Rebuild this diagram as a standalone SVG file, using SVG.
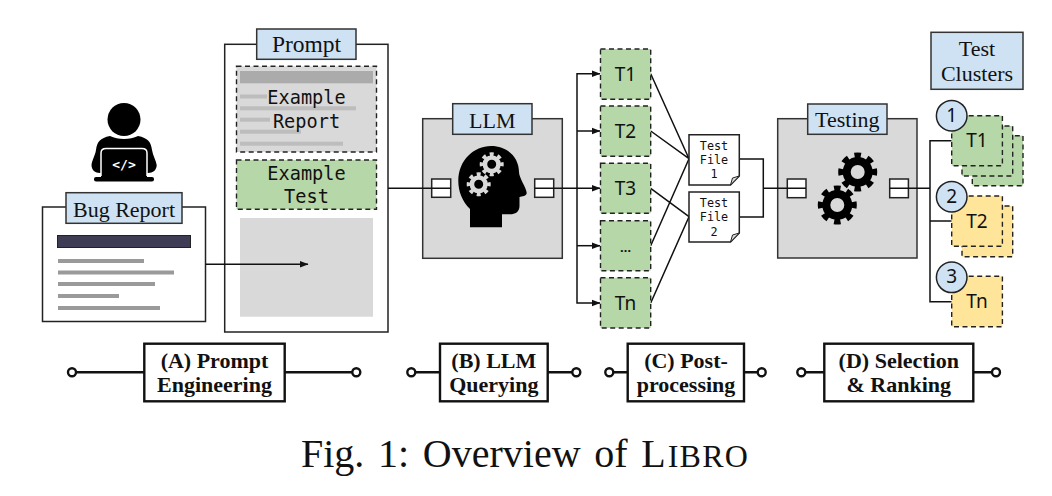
<svg xmlns="http://www.w3.org/2000/svg" width="1052" height="496" viewBox="0 0 1052 496">
<style>
.box{stroke:#222;stroke-width:1.5;fill:#fff}
.gray{fill:#d9d9d9;stroke:#333;stroke-width:1.5}
.lab{fill:#cfe2f3;stroke:#333;stroke-width:1.5}
.dash{stroke:#222;stroke-width:1.4;stroke-dasharray:5 3.5}
.green{fill:#b6d7a8}.yellow{fill:#ffe599}
.port{fill:#fff;stroke:#222;stroke-width:1.5}
.serif{font-family:"Liberation Serif",serif;font-size:22px;fill:#111;text-anchor:middle}
.mono{font-family:"DejaVu Sans Mono",monospace;font-size:18.6px;fill:#111;text-anchor:middle}
.mono2{font-family:"DejaVu Sans Mono",monospace;font-size:11.8px;fill:#111;text-anchor:middle}
.sans{font-family:"Noto Sans",sans-serif;font-size:19px;fill:#111;text-anchor:middle}
.stage{font-family:"Liberation Serif",serif;font-weight:bold;font-size:22px;fill:#111;text-anchor:middle}
.sbox{fill:#fff;stroke:#111;stroke-width:2.4}
.sline{fill:none;stroke:#111;stroke-width:2.4}
.dot{fill:#fff;stroke:#111;stroke-width:2.4}
.conn{fill:none;stroke:#111;stroke-width:1.5}
.bar{fill:#9a9a9a}
.bar2{fill:#bdbdbd}
.circ{fill:#cfe2f3;stroke:#222;stroke-width:1.5}
</style>
<defs>
<marker id="ah" markerUnits="userSpaceOnUse" markerWidth="9" markerHeight="8" refX="8.5" refY="4" orient="auto"><path d="M0 .5L9 4L0 7.5Z" fill="#111"/></marker>
<g id="gearBlack"><circle r="11" fill="none" stroke="#000" stroke-width="8"/><circle r="16.500" fill="none" stroke="#000" stroke-width="6" pathLength="16" stroke-dasharray="1 1" stroke-dashoffset=".5"/></g>
<g id="gearLight"><circle r="6.800" fill="none" stroke="#d9d9d9" stroke-width="4.600"/><circle r="10" fill="none" stroke="#d9d9d9" stroke-width="4" pathLength="16" stroke-dasharray="1 1" stroke-dashoffset=".5"/></g>
</defs>
<rect width="1052" height="496" fill="#fff"/>
<g id="person">
<circle cx="124" cy="119.500" r="16.500" fill="#000"/>
<path d="M110 136C100 138 97 142 96 150C95 156 92 160 91.500 165C91.500 170 95 173 100 173H148C153 173 156.700 170 156.700 165C156 160 153 156 152 150C151 142 148 138 138 136C130 140 118 140 110 136Z" fill="#000"/>
<rect x="101" y="149" width="46" height="28" fill="#000"/>
<path d="M101 176V153Q101 148.500 106 148.500H142Q147 148.500 147 153V176" fill="none" stroke="#fff" stroke-width="1.500"/>
<rect x="94" y="177" width="60" height="4.500" rx="2" fill="#000"/>
<text x="124" y="169" font-family="DejaVu Sans Mono,monospace" font-weight="bold" font-size="13" fill="#fff" text-anchor="middle">&lt;/&gt;</text>
</g>
<g id="bug-report">
<rect class="box" x="42.500" y="207" width="163" height="114.500"/>
<rect x="57.500" y="235.500" width="133" height="12" fill="#3f3d56" stroke="#222"/>
<rect class="bar" x="58" y="259" width="86" height="4"/>
<rect class="bar" x="58" y="270.500" width="116" height="4"/>
<rect class="bar" x="58" y="282" width="97" height="4"/>
<rect class="bar" x="58" y="294" width="61" height="4"/>
<rect class="bar" x="58" y="306" width="102" height="4"/>
<rect class="lab" x="66" y="192.700" width="116" height="30.600"/>
<text class="serif" x="124" y="217">Bug Report</text>
</g>
<g id="prompt">
<rect class="box" x="224.700" y="44.300" width="163.300" height="287.700"/>
<rect class="lab" x="256.700" y="29" width="99.300" height="30.300"/>
<text class="serif" x="306.500" y="52" style="font-size:23.500px">Prompt</text>
<rect x="236.500" y="66.300" width="140" height="85.700" fill="#d9d9d9" class="dash"/>
<rect x="240" y="71" width="133" height="12.300" fill="#ababab"/>
<rect class="bar2" x="240" y="94.500" width="27" height="4"/>
<rect class="bar2" x="240" y="106.300" width="116" height="4"/>
<rect class="bar2" x="240" y="117.700" width="30" height="4"/>
<rect class="bar2" x="240" y="129.700" width="61" height="4"/>
<rect class="bar2" x="240" y="141.700" width="103" height="4"/>
<text class="mono" x="306.500" y="104">Example</text>
<text class="mono" x="306.500" y="128">Report</text>
<rect x="236.500" y="160" width="140" height="49.300" class="dash green"/>
<text class="mono" x="306.500" y="180">Example</text>
<text class="mono" x="306.500" y="203">Test</text>
<rect x="240" y="218" width="133" height="98.700" fill="#d9d9d9"/>
</g>
<g id="llm">
<rect class="gray" x="422.700" y="118.700" width="139.600" height="139.600"/>
<rect class="lab" x="452.700" y="103.700" width="79.300" height="30.600"/>
<text class="serif" x="492.300" y="127.500">LLM</text>
<path d="M470 227.300V209C462 201 458.300 191 458.300 181C458.300 160 474 146 491 146C508 146 519 158 519 172C519 178 526.700 188 526.700 193C526.700 196 522 196.500 519.500 197V206C519.500 212 515 214.300 510 214.300H502V227.300Z" fill="#000"/>
<use href="#gearLight" x="491.700" y="164.300"/>
<use href="#gearLight" x="478.700" y="184.300"/>
<rect class="port" x="431.700" y="179" width="19" height="18.300"/>
<rect class="port" x="534.700" y="179" width="19" height="18.300"/>
</g>
<g id="testing">
<rect class="gray" x="777.700" y="118.700" width="139.300" height="139.300"/>
<rect class="lab" x="807.700" y="104" width="79.300" height="30.300"/>
<text class="serif" x="847.300" y="127">Testing</text>
<use href="#gearBlack" x="857.700" y="172"/>
<use href="#gearBlack" x="837.300" y="205"/>
<rect class="port" x="787.300" y="179" width="18.700" height="18.700"/>
<rect class="port" x="889.700" y="179" width="18.700" height="18.700"/>
</g>
<g id="connectors">
<path class="conn" d="M388 188.300H450.700"/>
<path class="conn" d="M205.700 264.300H308" marker-end="url(#ah)"/>
<path class="conn" d="M534.700 188.300H600" marker-end="url(#ah)"/>
<path class="conn" d="M577 188.300V73.700H600" marker-end="url(#ah)"/>
<path class="conn" d="M577 131H600" marker-end="url(#ah)"/>
<path class="conn" d="M577 188.300V303H600" marker-end="url(#ah)"/>
<path class="conn" d="M577 245.700H600" marker-end="url(#ah)"/>
<path class="conn" d="M650.700 73.700L689 158.700M650.700 131L689 158.700M650.700 245.700L689 158.700M650.700 188.300L689 216.700M650.700 303L689 216.700"/>
<path class="conn" d="M739.300 159H763.300V217H739.300M763.300 188.300H806"/>
<path class="conn" d="M889.700 188.300H930M951.700 140.700H930V301.700H951.700M930 221H951.700"/>
</g>
<g id="t1"><rect x="600.500" y="49" width="50.200" height="50.300" class="dash green"/><text class="sans" x="625.500" y="80.700">T1</text></g>
<g id="t2"><rect x="600.500" y="106" width="50.200" height="50.300" class="dash green"/><text class="sans" x="625.500" y="138.200">T2</text></g>
<g id="t3"><rect x="600.500" y="163.300" width="50.200" height="50" class="dash green"/><text class="sans" x="625.500" y="195">T3</text></g>
<g id="tdots"><rect x="600.500" y="220.700" width="50.200" height="50" class="dash green"/><text class="sans" x="625.500" y="252" font-weight="bold" style="font-size:13px">…</text></g>
<g id="tn"><rect x="600.500" y="277.700" width="50.200" height="50.300" class="dash green"/><text class="sans" x="625.500" y="310">Tn</text></g>
<g id="test-file-1"><path class="box" d="M689 134.700H739.300V176L730.500 185H689Z"/><path d="M730.500 185L732.500 178L739.300 176Z" fill="#d9d9d9" stroke="#222" stroke-width="1"/>
<text class="mono2" x="714" y="150.300">Test</text><text class="mono2" x="714" y="164">File</text><text class="mono2" x="714" y="178">1</text></g>
<g id="test-file-2"><path class="box" d="M689 192H739.300V233L730.500 242H689Z"/><path d="M730.500 242L732.500 235L739.300 233Z" fill="#d9d9d9" stroke="#222" stroke-width="1"/>
<text class="mono2" x="714" y="207.300">Test</text><text class="mono2" x="714" y="221">File</text><text class="mono2" x="714" y="235.500">2</text></g>
<g id="test-clusters"><rect class="lab" x="931" y="32.300" width="92" height="57"/><text class="serif" x="977" y="55.700">Test</text><text class="serif" x="977" y="81">Clusters</text></g>
<g id="cluster-1">
<rect x="972.300" y="135.700" width="50.700" height="50" class="dash green"/>
<rect x="962" y="126" width="50.700" height="50" class="dash green"/>
<rect x="951.700" y="115.700" width="50.700" height="50" class="dash green"/>
<text class="sans" x="977" y="147.300">T1</text>
<circle class="circ" cx="951.700" cy="115.700" r="15.300"/><text class="sans" x="951.700" y="121.700">1</text>
</g>
<g id="cluster-2">
<rect x="962" y="206" width="50.700" height="50.700" class="dash yellow"/>
<rect x="951.700" y="196" width="50.700" height="50.300" class="dash yellow"/>
<text class="sans" x="977" y="227.700">T2</text>
<circle class="circ" cx="951.700" cy="196.700" r="15.300"/><text class="sans" x="951.700" y="202.700">2</text>
</g>
<g id="cluster-3">
<rect x="951.700" y="276.300" width="50.700" height="50.400" class="dash yellow"/>
<text class="sans" x="977" y="308.300">Tn</text>
<circle class="circ" cx="951.700" cy="277.300" r="15.300"/><text class="sans" x="951.700" y="283.300">3</text>
</g>
<g id="stage-a"><path class="sline" d="M76 372.300H352.300"/><circle class="dot" cx="72" cy="372.300" r="4"/><circle class="dot" cx="356.300" cy="372.300" r="4"/><rect class="sbox" x="144.300" y="343.700" width="140.400" height="57.600"/><text class="stage" x="214.500" y="368.300">(A) Prompt</text><text class="stage" x="214.500" y="392.300">Engineering</text></g>
<g id="stage-b"><path class="sline" d="M415.300 372.300H572.300"/><circle class="dot" cx="411.300" cy="372.300" r="4"/><circle class="dot" cx="576.300" cy="372.300" r="4"/><rect class="sbox" x="440" y="343.700" width="107.700" height="57.600"/><text class="stage" x="493.800" y="368.300">(B) LLM</text><text class="stage" x="493.800" y="392.300">Querying</text></g>
<g id="stage-c"><path class="sline" d="M613.300 372.300H757.700"/><circle class="dot" cx="609.300" cy="372.300" r="4"/><circle class="dot" cx="761.700" cy="372.300" r="4"/><rect class="sbox" x="627.700" y="343.700" width="116.300" height="57.600"/><text class="stage" x="686" y="368.300">(C) Post-</text><text class="stage" x="686" y="392.300">processing</text></g>
<g id="stage-d"><path class="sline" d="M805.300 372.300H992"/><circle class="dot" cx="801.300" cy="372.300" r="4"/><circle class="dot" cx="996" cy="372.300" r="4"/><rect class="sbox" x="824.300" y="343.700" width="149" height="57.600"/><text class="stage" x="898.800" y="368.300">(D) Selection</text><text class="stage" x="898.800" y="392.300">&amp; Ranking</text></g>
<text x="301" y="466.700" font-family="Liberation Serif,serif" font-size="40" word-spacing="3.700" fill="#111">Fig. 1: Overview of L<tspan font-size="32" dx="2" letter-spacing="1.200">IBRO</tspan></text>
</svg>
